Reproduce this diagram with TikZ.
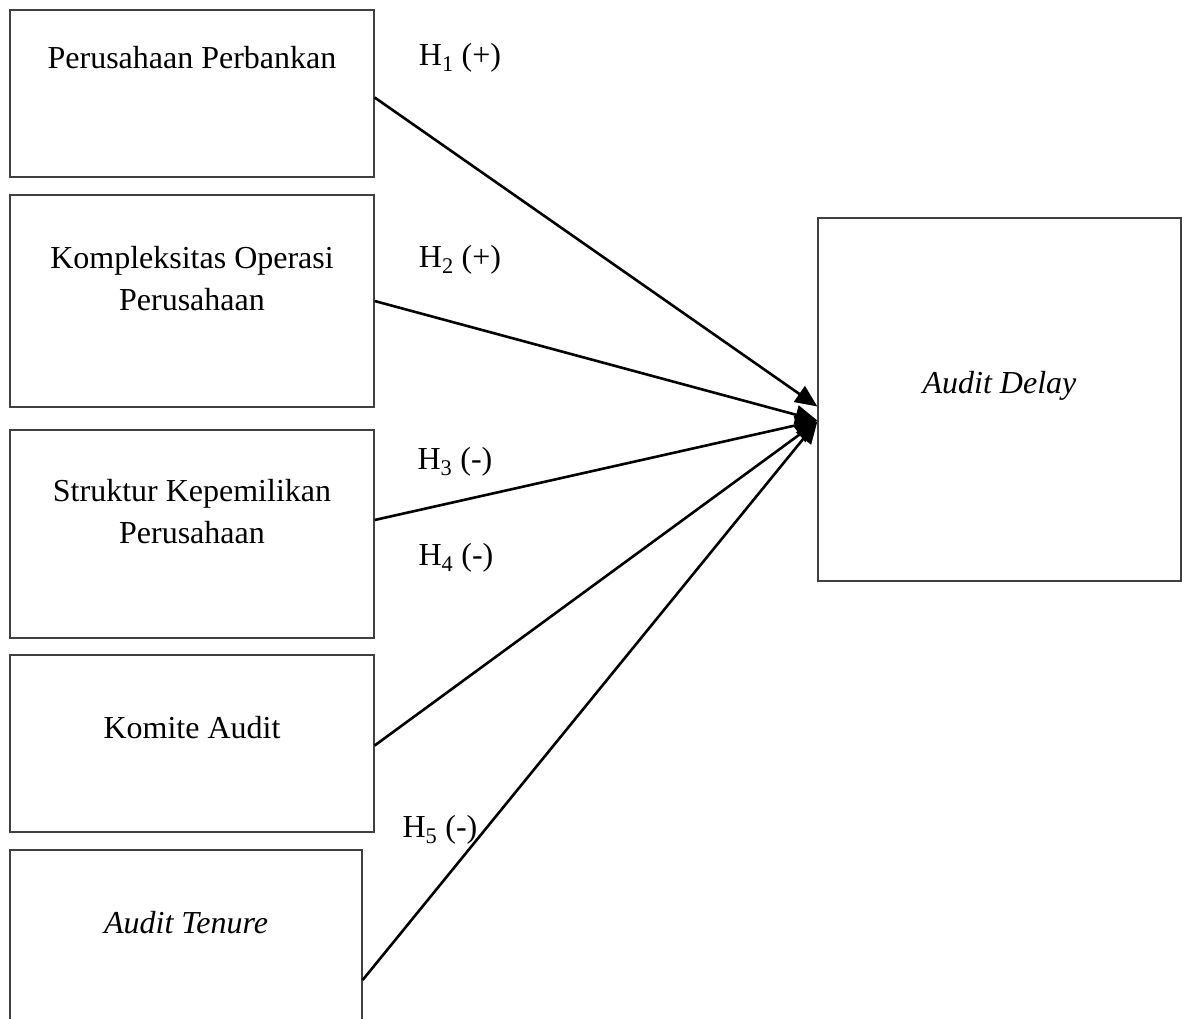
\documentclass[tikz,border=0pt]{standalone}
\usepackage{fontspec}
\setmainfont{Liberation Serif}
\usetikzlibrary{arrows.meta}

\begin{document}
\begin{tikzpicture}[x=1pt,y=-1pt]
    \tikzstyle{every node}=[font=\fontsize{32}{42}\selectfont,align=center]
    \tikzstyle{varbox}=[rectangle,draw=black!75,line width=1.3pt,minimum width=364pt,inner sep=0pt]
    \tikzstyle{hyp}=[line width=2.6pt,-{Triangle[length=22pt,width=19pt]}]
    \useasboundingbox (0,0) rectangle (1182,1018);
    \clip (0,0) rectangle (1182,1018);
    \node[varbox,minimum height=167pt] (bank) at (192,93.5) {};
    \node[varbox,minimum height=212pt] (komp) at (192,301) {};
    \node[varbox,minimum height=208pt] (strk) at (192,534) {};
    \node[varbox,minimum height=177pt] (komt) at (192,743.5) {};
    \node[varbox,minimum width=352pt,minimum height=180pt] (tenr) at (186,940) {};
    \node[varbox,minimum width=363pt,minimum height=363pt] (delay) at (999.5,399.5) {};
    \node (tbank) at ([yshift=-48pt]bank.north) {Perusahaan Perbankan};
    \node (tkomp) at ([yshift=-84pt]komp.north) {Kompleksitas Operasi\\Perusahaan};
    \node (tstrk) at ([yshift=-82pt]strk.north) {Struktur Kepemilikan\\Perusahaan};
    \node (tkomt) at ([yshift=-73pt]komt.north) {Komite Audit};
    \node (ttenr) at ([yshift=-73pt]tenr.north) {\textit{Audit Tenure}};
    \node (tdelay) at ([yshift=14pt]delay.center) {\textit{Audit Delay}};
    \draw[hyp] ([yshift=-4pt]bank.east) -- ([yshift=-7pt]delay.west);
    \draw[hyp] (komp.east) -- ([yshift=-21pt]delay.west);
    \draw[hyp] ([yshift=14pt]strk.east) -- ([yshift=-21pt]delay.west);
    \draw[hyp] ([yshift=-2pt]komt.east) -- ([yshift=-22pt]delay.west);
    \draw[hyp] ([yshift=-40pt]tenr.east) -- ([yshift=-22pt]delay.west);
    \node (h1) at (460,58) {H\textsubscript{1} (+)};
    \node (h2) at (460,260) {H\textsubscript{2} (+)};
    \node (h3) at (455,462) {H\textsubscript{3} (-)};
    \node (h4) at (456,558) {H\textsubscript{4} (-)};
    \node (h5) at (440,830) {H\textsubscript{5} (-)};
\end{tikzpicture}
\end{document}
